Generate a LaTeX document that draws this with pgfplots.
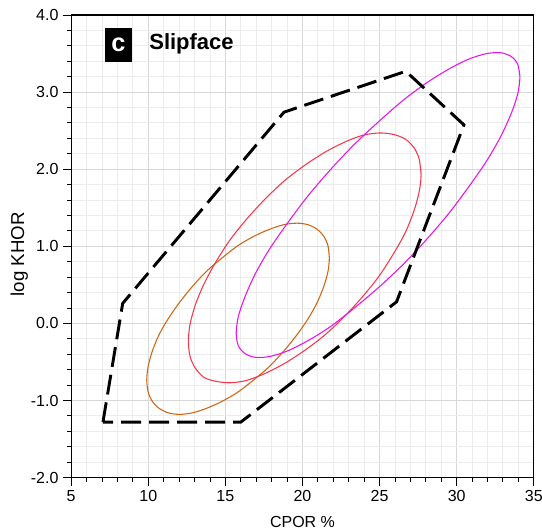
\documentclass[border=0pt]{standalone}
\usepackage{fontspec}
\setmainfont{Liberation Sans}
\usepackage{pgfplots}
\pgfplotsset{compat=1.18}
\definecolor{ellorange}{RGB}{204,102,20}
\definecolor{ellred}{RGB}{245,55,75}
\definecolor{ellmag}{RGB}{228,20,235}
\definecolor{majgrid}{RGB}{215,215,215}
\definecolor{mingrid}{RGB}{236,236,236}
\begin{document}
\begin{tikzpicture}
\useasboundingbox (-53.4pt,-40.5pt) rectangle (353.15pt,358.25pt);
\begin{axis}[
  scale only axis,
  width=347pt, height=347pt,
  xmin=5, xmax=35, ymin=-2, ymax=4,
  xtick={5,10,...,35},
  ytick={-2,-1,...,4},
  minor x tick num=4,
  minor y tick num=4,
  grid=both,
  major grid style={majgrid, line width=0.7pt},
  minor grid style={mingrid, line width=0.7pt},
  xtick pos=bottom, ytick pos=left,
  tick align=outside,
  major tick length=6pt,
  minor tick length=3pt,
  every tick/.style={black, line width=0.7pt},
  axis line style={black, line width=0.8pt},
  /pgf/number format/assume math mode=true,
  yticklabel style={/pgf/number format/.cd, fixed, fixed zerofill, precision=1},
  ticklabel style={font=\fontsize{12}{14}\selectfont},
  xlabel={CPOR \%},
  ylabel={log KHOR},
  every axis x label/.style={at={(axis description cs:0.5,-0.095)}, anchor=center, font=\fontsize{12}{14}\selectfont},
  every axis y label/.style={at={(axis description cs:-0.112,0.483)}, rotate=90, anchor=center, font=\fontsize{14}{16}\selectfont},
  clip=true,
]
% orange ellipse
\addplot[color=ellorange, line width=0.8pt, smooth] coordinates {
(21.74,0.85) (21.65,1.01) (21.38,1.13) (20.95,1.22) (20.36,1.28) (19.63,1.30)
(18.78,1.28) (17.85,1.22) (16.85,1.13) (15.82,1.01) (14.79,0.85) (13.80,0.68)
(12.86,0.48) (12.02,0.27) (11.29,0.06) (10.69,-0.15) (10.26,-0.36) (9.99,-0.56)
(9.90,-0.73) (9.99,-0.89) (10.26,-1.01) (10.69,-1.10) (11.29,-1.16) (12.02,-1.18)
(12.86,-1.16) (13.80,-1.10) (14.79,-1.01) (15.82,-0.89) (16.85,-0.73) (17.85,-0.56)
(18.78,-0.36) (19.63,-0.15) (20.36,0.06) (20.95,0.27) (21.38,0.48) (21.65,0.67)
(21.74,0.85) (21.65,1.01)
};
% red ellipse
\addplot[color=ellred, line width=0.8pt, smooth] coordinates {
(27.69,1.93) (27.57,2.13) (27.23,2.28) (26.67,2.39) (25.92,2.45) (24.99,2.47)
(23.91,2.44) (22.72,2.35) (21.45,2.22) (20.14,2.05) (18.83,1.85) (17.56,1.61)
(16.37,1.35) (15.29,1.08) (14.36,0.79) (13.61,0.51) (13.05,0.24) (12.71,-0.01)
(12.60,-0.23) (12.71,-0.43) (13.05,-0.58) (13.61,-0.70) (14.36,-0.75) (15.29,-0.77)
(16.37,-0.74) (17.56,-0.65) (18.83,-0.52) (20.14,-0.35) (21.45,-0.15) (22.72,0.09)
(23.91,0.35) (24.99,0.62) (25.92,0.91) (26.67,1.18) (27.23,1.46) (27.57,1.71)
(27.69,1.93) (27.57,2.13)
};
% magenta ellipse
\addplot[color=ellmag, line width=0.8pt, smooth] coordinates {
(34.10,3.20) (33.96,3.36) (33.55,3.46) (32.87,3.51) (31.95,3.50) (30.81,3.43)
(29.50,3.30) (28.05,3.12) (26.50,2.89) (24.90,2.61) (23.30,2.31) (21.75,1.98)
(20.30,1.64) (18.99,1.29) (17.85,0.96) (16.93,0.64) (16.26,0.34) (15.84,0.09)
(15.70,-0.13) (15.84,-0.29) (16.26,-0.39) (16.93,-0.44) (17.85,-0.43) (18.99,-0.36)
(20.30,-0.23) (21.75,-0.05) (23.30,0.19) (24.90,0.46) (26.50,0.76) (28.05,1.09)
(29.50,1.43) (30.81,1.78) (31.95,2.11) (32.87,2.43) (33.55,2.73) (33.96,2.98)
(34.10,3.20) (33.96,3.36)
};
% dashed polygon
\addplot[black, line width=2.2pt, dash pattern=on 15pt off 6pt, line join=miter] coordinates {
(7.06,-1.28) (8.34,0.26) (18.8,2.74) (26.7,3.27) (30.47,2.575) (26.1,0.28) (16.0,-1.28)
} -- cycle;
\node[fill=black, text=white, font=\bfseries\fontsize{19}{19}\selectfont,
  minimum width=20pt, minimum height=25.5pt, inner sep=0pt]
  at (axis cs:8.07,3.614) {c};
\node[anchor=west, font=\bfseries\fontsize{16.5}{18}\selectfont, inner sep=0pt]
  at (axis cs:10.05,3.63) {Slipface};
\end{axis}
\end{tikzpicture}
\end{document}
